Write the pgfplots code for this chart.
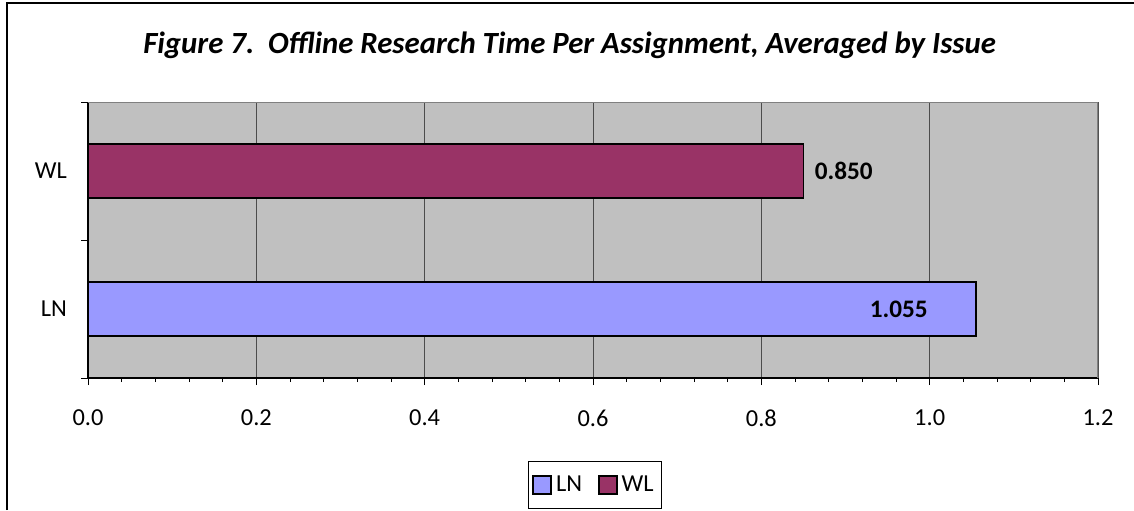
\documentclass[border=0pt]{standalone}
\usepackage{pgfplots}
\pgfplotsset{compat=1.18}
\usepackage{fontspec}
\setmainfont{Carlito}
\definecolor{plotgray}{HTML}{C0C0C0}
\definecolor{lnfill}{HTML}{9999FF}
\definecolor{wlfill}{HTML}{993366}
\begin{document}
\begin{tikzpicture}
\path[use as bounding box] (0pt,0pt) rectangle (567pt,255pt);
\draw[line width=0.6pt] (3.5pt,0pt) -- (3.5pt,253.5pt) -- (567pt,253.5pt);
\node[font=\fontsize{15.4}{18}\selectfont\bfseries\itshape] at (284.8pt,232.5pt) {Figure 7.\ \ Offline Research Time Per Assignment, Averaged by Issue};
\begin{axis}[
  at={(44pt,66pt)}, anchor=south west, scale only axis,
  width=505pt, height=138pt,
  xbar, bar width=27pt, bar shift=0pt,
  xmin=0, xmax=1.2, ymin=-0.5, ymax=1.5,
  axis x line*=bottom, axis y line*=left,
  axis line style={black, line width=0.6pt},
  axis background/.style={fill=plotgray},
  xtick={0,0.2,0.4,0.6,0.8,1.0,1.2},
  minor x tick num=4,
  xmajorgrids, major grid style={black!70, line width=0.5pt},
  tick align=outside,
  major tick length=3.5pt, minor tick length=2pt,
  tick style={black, line width=0.5pt},
  xticklabel style={font=\fontsize{12.2}{14}\selectfont, yshift=-9pt},
  /pgf/number format/assume math mode=true,
  xticklabel={\pgfmathprintnumber[fixed,fixed zerofill,precision=1]{\tick}},
  ytick={-0.5,0.5,1.5}, yticklabels={},
  extra y ticks={0,1}, extra y tick labels={LN,WL},
  extra y tick style={major tick length=0pt, yticklabel style={xshift=-7pt}},
  yticklabel style={font=\fontsize{12.2}{14}\selectfont},
  legend style={at={(0.502,-0.388)}, anchor=center, legend columns=-1,
    draw=black, line width=0.5pt, font=\fontsize{12.2}{14}\selectfont,
    inner xsep=2pt, inner ysep=5pt,
    /tikz/every even column/.append style={column sep=6pt}},
  legend image code/.code={\draw[#1, draw=black, line width=0.8pt] (0pt,-4.5pt) rectangle (9pt,4.5pt);},
  nodes near coords={\pgfmathprintnumber[fixed,fixed zerofill,precision=3]{\pgfplotspointmeta}},
  point meta=x,
  every node near coord/.append style={font=\fontsize{12.6}{14}\selectfont\bfseries},
]
\addplot[draw=black, line width=0.7pt, fill=lnfill, bar shift=0pt,
  nodes near coords style={anchor=east, xshift=-20.5pt}] coordinates {(1.055,0)};
\addplot[draw=black, line width=0.7pt, fill=wlfill, bar shift=0pt,
  nodes near coords style={anchor=west, xshift=2pt}] coordinates {(0.850,1)};
\legend{LN,WL}
\draw[black!50, line width=0.6pt] (rel axis cs:0,1) -- (rel axis cs:1,1) -- (rel axis cs:1,0);
\end{axis}
\end{tikzpicture}
\end{document}
